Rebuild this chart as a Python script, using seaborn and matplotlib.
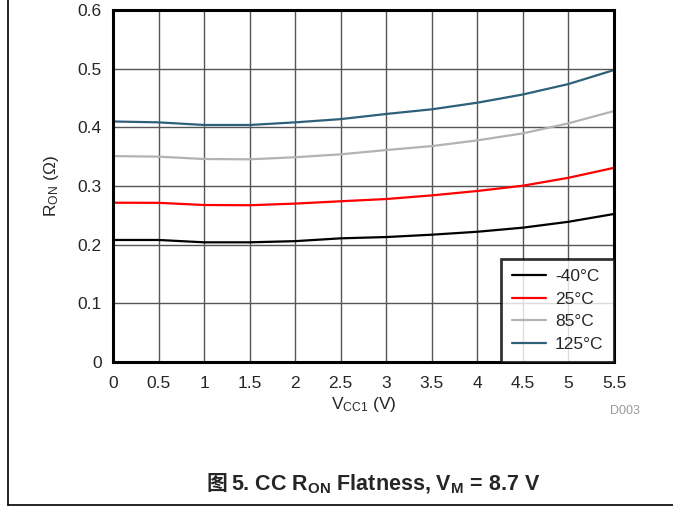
import pandas as pd
import matplotlib
import matplotlib.pyplot as plt
from matplotlib.lines import Line2D
matplotlib.use('Agg')
import seaborn as sns

vcc = [0, 0.5, 1, 1.5, 2, 2.5, 3, 3.5, 4, 4.5, 5, 5.5]
r_m40 = [0.208, 0.208, 0.204, 0.204, 0.206, 0.2108, 0.213, 0.217, 0.222, 0.229, 0.239, 0.2523]
r_25 = [0.2715, 0.2713, 0.2676, 0.2672, 0.270, 0.274, 0.2778, 0.284, 0.2915, 0.3005, 0.314, 0.331]
r_85 = [0.351, 0.350, 0.346, 0.3455, 0.349, 0.354, 0.3613, 0.368, 0.3778, 0.3897, 0.4068, 0.4278]
r_125 = [0.410, 0.4085, 0.404, 0.404, 0.4085, 0.414, 0.4228, 0.4307, 0.442, 0.456, 0.4738, 0.4977]
temps = ['-40°C', '25°C', '85°C', '125°C']
colors = ['#000000', '#ff0000', '#b3b3b3', '#2f6079']
x_ticks = [0, 0.5, 1, 1.5, 2, 2.5, 3, 3.5, 4, 4.5, 5, 5.5]
x_labels = ['0', '0.5', '1', '1.5', '2', '2.5', '3', '3.5', '4', '4.5', '5', '5.5']
y_ticks = [0, 0.1, 0.2, 0.3, 0.4, 0.5, 0.6]
y_labels = ['0', '0.1', '0.2', '0.3', '0.4', '0.5', '0.6']

rows = []
for t, vals in zip(temps, [r_m40, r_25, r_85, r_125]):
    for v, r in zip(vcc, vals):
        rows.append({'Vcc': v, 'Ron': r, 'Temp': t})
data = pd.DataFrame(rows)

sns.set_style('white')
plt.rcParams['font.family'] = ['Liberation Sans', 'Noto Sans CJK SC']
plt.rcParams['mathtext.fontset'] = 'custom'
plt.rcParams['mathtext.rm'] = 'Liberation Sans'
plt.rcParams['mathtext.it'] = 'Liberation Sans'
plt.rcParams['mathtext.bf'] = 'Liberation Sans:bold'

fig = plt.figure(figsize=(6.73, 5.08), dpi=100)
ax = fig.add_axes([113 / 673, 146 / 508, 501 / 673, 352 / 508])

sns.lineplot(data=data, x='Vcc', y='Ron', hue='Temp', hue_order=temps,
             palette=colors, linewidth=1.6, ax=ax)

ax.set_xlim(0, 5.5)
ax.set_ylim(0, 0.6)
ax.set_xticks(x_ticks)
ax.set_xticklabels(x_labels)
ax.set_yticks(y_ticks)
ax.set_yticklabels(y_labels)
ax.tick_params(axis='x', labelsize=12.5, length=0, pad=10)
ax.tick_params(axis='y', labelsize=12.5, length=0, pad=8)
ax.grid(True, color='#555555', linewidth=1)
for s in ax.spines.values():
    s.set_color('black')
    s.set_linewidth(2.2)
    s.set_visible(True)

ax.set_xlabel('V$_{\\mathregular{CC1}}$ (V)', fontsize=12.5, labelpad=3)
ax.set_ylabel('R$_{\\mathregular{ON}}$ ($\\Omega$)', fontsize=12.5, labelpad=12)

leg = ax.legend(loc='lower right', borderaxespad=0, fontsize=12.5, frameon=True,
                fancybox=False, handlelength=1.95, labelspacing=0.42,
                borderpad=0.6, handletextpad=0.55)
leg.get_frame().set_edgecolor('black')
leg.get_frame().set_linewidth(2)

fig.text(625 / 673, 1 - 411 / 508, 'D003', fontsize=9, color='#999999',
         ha='center', va='center')

# caption, CJK char separately since mathtext has no fallback
fig.text(227 / 673, 1 - 484 / 508, '图', fontsize=15, fontweight='bold',
         family=['Noto Sans CJK SC'], ha='right', va='center')
fig.text(231 / 673, 1 - 484 / 508,
         '5. CC R$_{\\mathbf{ON}}$ Flatness, V$_{\\mathbf{M}}$ = 8.7 V',
         fontsize=15.5, fontweight='bold', ha='left', va='center')

# outer frame lines
fig.add_artist(Line2D([8 / 673, 8 / 673], [1 - 505 / 508, 1], color='black',
                      linewidth=1.2, transform=fig.transFigure))
fig.add_artist(Line2D([8 / 673, 1], [1 - 505 / 508, 1 - 505 / 508], color='black',
                      linewidth=1.2, transform=fig.transFigure))

fig.savefig('out.png', dpi=100)
